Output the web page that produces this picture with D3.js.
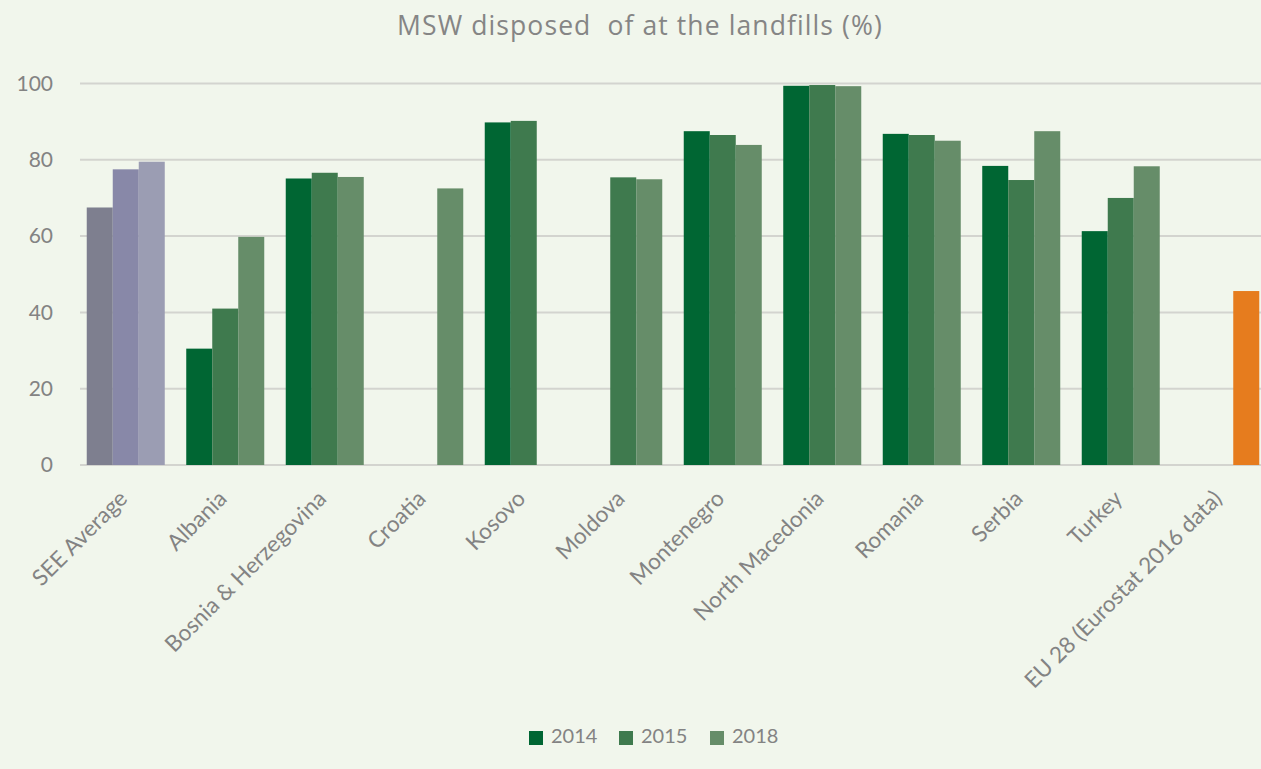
<!DOCTYPE html>
<html>
<head>
<meta charset="utf-8">
<script src="https://cdn.jsdelivr.net/npm/d3@7"></script>
<style>
  html, body { margin: 0; padding: 0; background: #f1f6ec; }
  svg { display: block; }
  text { font-family: Lato, "Open Sans", sans-serif; }
</style>
</head>
<body>
<svg id="chart" width="1261" height="769"></svg>
<script>
// Share of municipal solid waste disposed of at landfills (%)
const categories = [
  "SEE Average", "Albania", "Bosnia & Herzegovina", "Croatia", "Kosovo",
  "Moldova", "Montenegro", "North Macedonia", "Romania", "Serbia",
  "Turkey", "EU 28 (Eurostat 2016 data)"
];
const seriesNames = ["2014", "2015", "2018"];
const values2014 = [67.5, 30.5, 75.1, null, 89.8, null, 87.5, 99.4, 86.8, 78.4, 61.3, null];
const values2015 = [77.5, 41.0, 76.6, null, 90.2, 75.4, 86.5, 99.6, 86.5, 74.7, 70.0, null];
const values2018 = [79.5, 59.8, 75.5, 72.5, null, 74.9, 83.9, 99.3, 85.0, 87.5, 78.3, 45.6];
const yTicks = [0, 20, 40, 60, 80, 100];

const seriesColors = ["#006633", "#3f7a4e", "#668d69"];
const averageColors = ["#7e7f8f", "#8888a8", "#9b9db3"];
const euColor = "#e67c1e";

const svg = d3.select("#chart");
const W = 1261, H = 769;

svg.append("rect").attr("width", W).attr("height", H).attr("fill", "#f1f6ec");

const x = d3.scaleBand()
  .domain(categories)
  .range([76, 1270])
  .paddingInner(0.216)
  .paddingOuter(0.108);

const xs = d3.scaleBand()
  .domain(seriesNames)
  .range([0, x.bandwidth()]);

const y = d3.scaleLinear().domain([0, 100]).range([465, 83.5]);

// Gridlines
svg.append("g")
  .selectAll("line")
  .data(yTicks)
  .join("line")
  .attr("x1", 80).attr("x2", W)
  .attr("y1", d => y(d)).attr("y2", d => y(d))
  .attr("stroke", "#d3d4cf")
  .attr("stroke-width", 2);

// Y axis labels
const yAxis = d3.axisLeft(y).tickValues(yTicks).tickSize(0).tickPadding(0);
const gy = svg.append("g").attr("transform", "translate(53,0)").call(yAxis);
gy.select(".domain").remove();
gy.selectAll("text")
  .attr("fill", "#838383")
  .style("font-size", "21px")
  .style("font-family", "Lato, 'Open Sans', sans-serif");

// Bars
const allSeries = [values2014, values2015, values2018];
const barData = [];
categories.forEach((c, i) => {
  allSeries.forEach((vals, s) => {
    const v = vals[i];
    if (v == null) return;
    let color = seriesColors[s];
    if (i === 0) color = averageColors[s];
    if (i === categories.length - 1) color = euColor;
    barData.push({ c, s: seriesNames[s], v, color });
  });
});

svg.append("g")
  .selectAll("rect")
  .data(barData)
  .join("rect")
  .attr("x", d => x(d.c) + xs(d.s))
  .attr("width", xs.bandwidth())
  .attr("y", d => y(d.v))
  .attr("height", d => y(0) - y(d.v))
  .attr("fill", d => d.color);

// Category labels
const xAxis = d3.axisBottom(x).tickSize(0).tickPadding(0);
const gx = svg.append("g").attr("transform", "translate(0,465)").call(xAxis);
gx.select(".domain").remove();
gx.selectAll("text")
  .attr("fill", "#838383")
  .style("font-size", "22.5px")
  .style("font-family", "Lato, 'Open Sans', sans-serif")
  .attr("text-anchor", "end")
  .attr("dy", null)
  .attr("y", null)
  .attr("dominant-baseline", "middle")
  .attr("transform", "translate(-1,31) rotate(-45)");

// Title
svg.append("text")
  .attr("x", 640).attr("y", 35)
  .attr("text-anchor", "middle")
  .attr("fill", "#858585")
  .style("font-size", "26.5px")
  .style("letter-spacing", "1.1px")
  .style("font-family", "'Open Sans', Lato, sans-serif")
  .style("white-space", "pre")
  .text("MSW disposed  of at the landfills (%)");

// Legend
const legend = svg.append("g");
const legendX = [529, 619, 710];
seriesNames.forEach((name, i) => {
  const g = legend.append("g").attr("transform", `translate(${legendX[i]},731)`);
  g.append("rect").attr("width", 14).attr("height", 14).attr("fill", seriesColors[i]);
  g.append("text")
    .attr("x", 22).attr("y", 7)
    .attr("dominant-baseline", "middle")
    .attr("fill", "#838383")
    .style("font-size", "20px")
    .text(name);
});
</script>
</body>
</html>
